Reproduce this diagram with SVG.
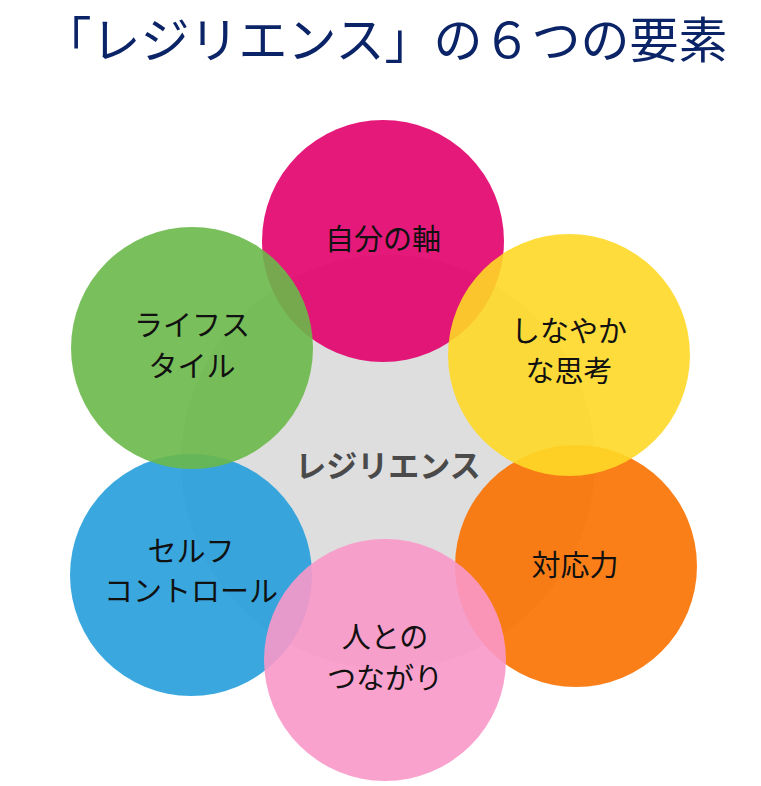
<svg xmlns="http://www.w3.org/2000/svg" width="761" height="786" viewBox="0 0 761 786">
<style>
.c{opacity:0.9}
.t{font-family:"Noto Sans CJK JP","Noto Sans",sans-serif;font-size:29px;fill:#111;text-anchor:middle}
.title{font-family:"Noto Sans CJK JP","Noto Sans",sans-serif;font-size:49px;fill:#0B2467;text-anchor:middle}
.center{font-family:"Noto Sans CJK JP","Noto Sans",sans-serif;font-size:31px;font-weight:bold;fill:#4A4A4A;text-anchor:middle}
</style>
<rect width="761" height="786" fill="#fff"/>
<text class="title" x="385" y="58">「レジリエンス」の６つの要素</text>
<g id="core"><circle cx="388" cy="462" r="207" fill="#DEDEDE"/></g>
<g id="orange"><circle class="c" cx="576" cy="566" r="121" fill="#F97100"/></g>
<g id="blue"><circle class="c" cx="191" cy="575" r="121" fill="#259FDC"/></g>
<g id="axis"><circle class="c" cx="383" cy="241" r="121" fill="#E1006A"/></g>
<g id="lifestyle"><circle class="c" cx="192" cy="348" r="121" fill="#6AB84A"/></g>
<g id="yellow"><circle class="c" cx="569" cy="355" r="121" fill="#FED826"/></g>
<g id="pink"><circle class="c" cx="385" cy="660" r="121" fill="#FA98C9"/></g>
<g id="labels">
<text class="center" x="388" y="477">レジリエンス</text>
<text class="t" x="383" y="250">自分の軸</text>
<text class="t" x="569" y="342">しなやか</text>
<text class="t" x="569" y="382">な思考</text>
<text class="t" x="575" y="576">対応力</text>
<text class="t" x="385" y="648">人との</text>
<text class="t" x="385" y="689">つながり</text>
<text class="t" x="191" y="562">セルフ</text>
<text class="t" x="191" y="602">コントロール</text>
<text class="t" x="192" y="336">ライフス</text>
<text class="t" x="192" y="377">タイル</text>
</g>
<g id="connectors"></g>
</svg>
